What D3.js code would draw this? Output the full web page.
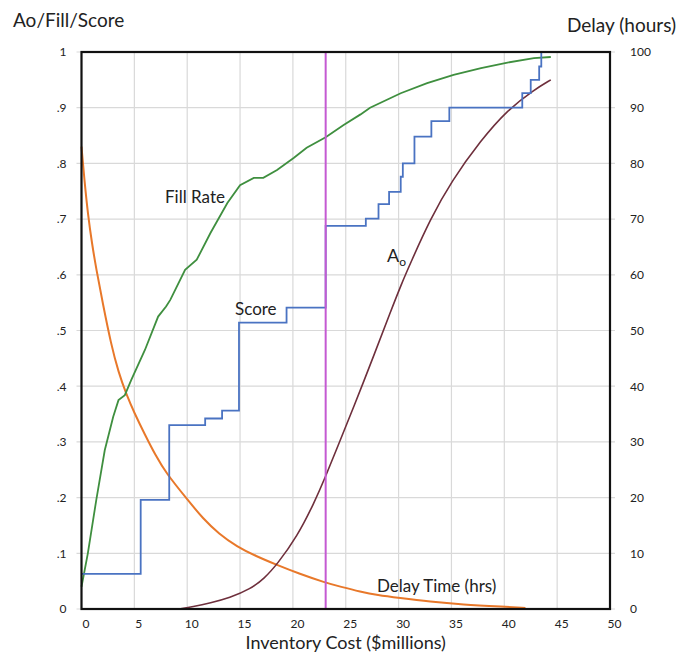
<!DOCTYPE html>
<html>
<head>
<meta charset="utf-8">
<script src="https://cdn.jsdelivr.net/npm/d3@7"></script>
<style>
  body { margin: 0; background: #fff; }
  text { font-family: Lato, "Open Sans", sans-serif; fill: #222; }
</style>
</head>
<body>
<div id="chart"></div>
<script>
// chart values
const xTicks = [0, 5, 10, 15, 20, 25, 30, 35, 40, 45, 50];
const leftTicks = [0, .1, .2, .3, .4, .5, .6, .7, .8, .9, 1];
const leftTickLabels = ['0', '.1', '.2', '.3', '.4', '.5', '.6', '.7', '.8', '.9', '1'];
const rightTicks = [0, 10, 20, 30, 40, 50, 60, 70, 80, 90, 100];

// fill rate (left axis)
const fillX = [0, 0.6, 1.4, 2.2, 3.0, 3.5, 4.1, 4.7, 6.0, 7.25, 8.0, 8.4, 9.8, 10.9, 12.2, 13.8, 15.0, 16.3, 17.2, 18.5, 20.1, 21.3, 23.1, 24.8, 26.4, 27.3, 30.2, 32.7, 35.2, 37.8, 40.3, 42.8, 44.4];
const fillY = [0.04, 0.10, 0.196, 0.285, 0.345, 0.375, 0.384, 0.411, 0.465, 0.525, 0.543, 0.555, 0.609, 0.627, 0.675, 0.729, 0.761, 0.774, 0.774, 0.788, 0.810, 0.828, 0.847, 0.869, 0.888, 0.900, 0.926, 0.944, 0.959, 0.971, 0.981, 0.989, 0.991];

// score (left axis), value holds until the next x
const scoreX = [0, 5.6, 8.3, 11.7, 13.3, 14.9, 19.4, 23.1, 26.9, 28.1, 29.1, 30.2, 30.4, 31.5, 33.1, 34.8, 41.7, 42.5, 43.3, 43.5];
const scoreY = [0.063, 0.196, 0.330, 0.342, 0.356, 0.514, 0.541, 0.688, 0.701, 0.727, 0.749, 0.776, 0.800, 0.848, 0.876, 0.900, 0.926, 0.950, 0.974, 1.0];

// operational availability Ao (left axis)
const aoX = [9.3, 10.5, 12.2, 14, 16, 17.3, 18.5, 20.4, 22, 23.1, 24.2, 25.7, 27.8, 29.2, 30.3, 31.1, 33, 35, 37.8, 40.3, 42.8, 44.4];
const aoY = [0, 0.004, 0.011, 0.02, 0.036, 0.055, 0.080, 0.130, 0.190, 0.238, 0.29, 0.36, 0.462, 0.532, 0.585, 0.62, 0.70, 0.768, 0.842, 0.896, 0.932, 0.950];

// delay time in hours (right axis)
const delayX = [0, 0.3, 0.6, 1.0, 1.4, 2.0, 2.8, 3.5, 4.25, 5, 6, 7, 8, 10, 11.5, 13, 14.7, 16.5, 18.5, 20.5, 23.1, 24.5, 26.4, 28, 30, 33, 36, 40, 42];
const delayY = [83, 76.5, 71, 65.5, 61, 55, 47.5, 42.5, 38.5, 35.2, 31.3, 27.6, 24.4, 19.7, 16.2, 13.5, 11.2, 9.5, 7.9, 6.4, 4.7, 4.0, 3.1, 2.5, 2.0, 1.3, 0.8, 0.4, 0.2];

const selectedCost = 23.1;

const width = 692, height = 657;
const margin = {left: 81.5, right: 82, top: 52, bottom: 48};

const svg = d3.select('#chart').append('svg')
  .attr('width', width)
  .attr('height', height);

const x = d3.scaleLinear().domain([0, 50]).range([margin.left, width - margin.right]);
const yL = d3.scaleLinear().domain([0, 1]).range([height - margin.bottom, margin.top]);
const yR = d3.scaleLinear().domain([0, 100]).range([height - margin.bottom, margin.top]);

// gridlines
const grid = svg.append('g').attr('stroke', '#d9d9d9').attr('stroke-width', 1.2);
grid.selectAll('line.v').data(xTicks).join('line')
  .attr('x1', d => x(d)).attr('x2', d => x(d))
  .attr('y1', yL(0)).attr('y2', yL(1));
grid.selectAll('line.h').data(leftTicks).join('line')
  .attr('x1', x(0) - 5).attr('x2', x(50) + 5)
  .attr('y1', d => yL(d)).attr('y2', d => yL(d));

// axes (labels only, lines drawn by frame)
const leftAxis = svg.append('g')
  .attr('transform', `translate(${x(0) - 12},0)`)
  .call(d3.axisLeft(yL).tickValues(leftTicks).tickFormat((d, i) => leftTickLabels[i]).tickSize(0));
const rightAxis = svg.append('g')
  .attr('transform', `translate(${x(50) + 17},0)`)
  .call(d3.axisRight(yR).tickValues(rightTicks).tickSize(0));
const bottomAxis = svg.append('g')
  .attr('transform', `translate(4,${yL(0) + 7})`)
  .call(d3.axisBottom(x).tickValues(xTicks).tickSize(0));
[leftAxis, rightAxis, bottomAxis].forEach(a => {
  a.select('.domain').remove();
  a.selectAll('text').attr('font-size', 12).attr('font-family', 'Lato, sans-serif').attr('fill', '#222');
});

// series
svg.append('path')
  .datum(delayX.map((d, i) => [d, delayY[i]]))
  .attr('fill', 'none').attr('stroke', '#e8782a').attr('stroke-width', 2)
  .attr('d', d3.line().x(d => x(d[0])).y(d => yR(d[1])).curve(d3.curveBasis));

svg.append('path')
  .datum(aoX.map((d, i) => [d, aoY[i]]))
  .attr('fill', 'none').attr('stroke', '#6e2f3c').attr('stroke-width', 1.6)
  .attr('d', d3.line().x(d => x(d[0])).y(d => yL(d[1])).curve(d3.curveBasis));

svg.append('path')
  .datum(fillX.map((d, i) => [d, fillY[i]]))
  .attr('fill', 'none').attr('stroke', '#3f8f3f').attr('stroke-width', 1.8)
  .attr('d', d3.line().x(d => x(d[0])).y(d => yL(d[1])));

svg.append('path')
  .datum(scoreX.map((d, i) => [d, scoreY[i]]))
  .attr('fill', 'none').attr('stroke', '#4a73c2').attr('stroke-width', 1.8)
  .attr('d', d3.line().x(d => x(d[0])).y(d => yL(d[1])).curve(d3.curveStepAfter));

// selected cost marker
svg.append('line')
  .attr('x1', x(selectedCost)).attr('x2', x(selectedCost))
  .attr('y1', yL(0)).attr('y2', yL(1))
  .attr('stroke', '#c45ad2').attr('stroke-width', 2);

// frame
svg.append('rect')
  .attr('x', x(0)).attr('y', yL(1))
  .attr('width', x(50) - x(0)).attr('height', yL(0) - yL(1))
  .attr('fill', 'none').attr('stroke', '#111').attr('stroke-width', 2.2);

// titles
svg.append('text').attr('x', 13).attr('y', 27).attr('font-size', 19).text('Ao/Fill/Score');
svg.append('text').attr('x', 567).attr('y', 32).attr('font-size', 19).text('Delay (hours)');
svg.append('text').attr('x', (x(0) + x(50)) / 2).attr('y', 649)
  .attr('text-anchor', 'middle').attr('font-size', 18).text('Inventory Cost ($millions)');

// series labels
svg.append('text').attr('x', 165).attr('y', 203).attr('font-size', 17).text('Fill Rate');
svg.append('text').attr('x', 235).attr('y', 315).attr('font-size', 17).text('Score');
const ao = svg.append('text').attr('x', 387).attr('y', 262).attr('font-size', 18);
ao.append('tspan').text('A');
ao.append('tspan').attr('font-size', 12).attr('dy', 4).text('o');
svg.append('text').attr('x', 377).attr('y', 592).attr('font-size', 17).text('Delay Time (hrs)');
</script>
</body>
</html>
